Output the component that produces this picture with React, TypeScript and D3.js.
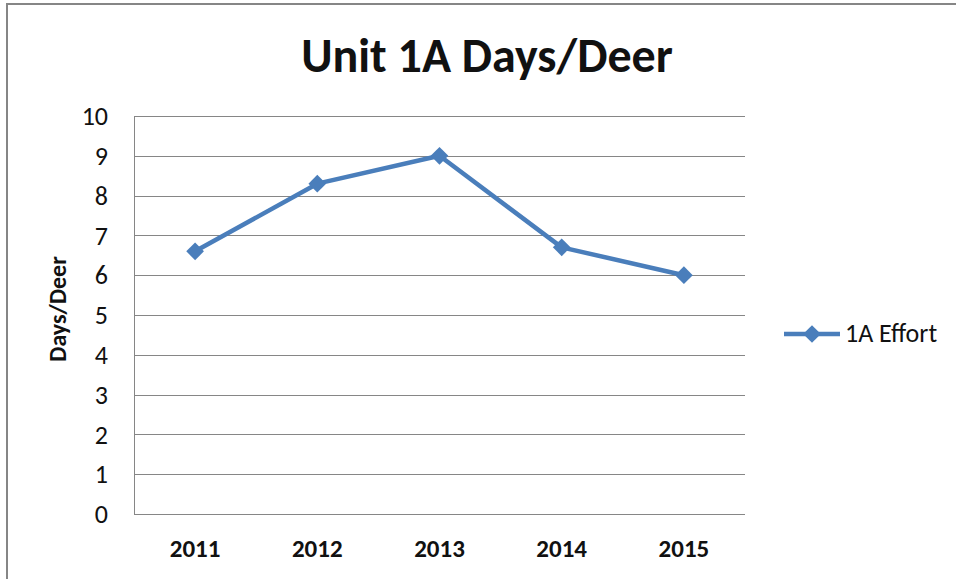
import React, { useEffect, useRef } from 'react';
import * as d3 from 'd3';

const years = ['2011', '2012', '2013', '2014', '2015'];
const effort = [6.6, 8.3, 9.0, 6.7, 6.0];
const yTicks = [0, 1, 2, 3, 4, 5, 6, 7, 8, 9, 10];

const App = () => {
  const ref = useRef<SVGSVGElement>(null);

  useEffect(() => {
    const width = 956;
    const height = 579;
    const plot = { left: 134, top: 116, right: 745, bottom: 514 };
    const svg = d3.select(ref.current);
    svg.selectAll('*').remove();

    svg.append('rect')
      .attr('x', 0).attr('y', 0).attr('width', width).attr('height', height)
      .style('fill', 'white');

    // outer chart border
    svg.append('rect')
      .attr('x', 7).attr('y', 4).attr('width', width + 10).attr('height', height + 10)
      .style('fill', 'none')
      .style('stroke', '#868686')
      .style('stroke-width', 2);

    const x = d3.scaleBand().domain(years).range([plot.left, plot.right]);
    const y = d3.scaleLinear().domain([0, 10]).range([plot.bottom, plot.top]);

    // gridlines
    svg.append('g')
      .selectAll('line')
      .data(yTicks)
      .enter()
      .append('line')
      .attr('x1', plot.left)
      .attr('x2', plot.right)
      .attr('y1', d => Math.round(y(d)) + 0.5)
      .attr('y2', d => Math.round(y(d)) + 0.5)
      .style('stroke', '#868686')
      .style('stroke-width', 1);

    svg.append('line')
      .attr('x1', plot.left + 0.5).attr('x2', plot.left + 0.5)
      .attr('y1', plot.top).attr('y2', plot.bottom + 0.5)
      .style('stroke', '#868686');

    const font = 'Carlito, Calibri, "Open Sans", sans-serif';

    svg.append('g')
      .selectAll('text')
      .data(yTicks)
      .enter()
      .append('text')
      .attr('x', 108)
      .attr('y', d => y(d))
      .attr('dy', '0.35em')
      .attr('text-anchor', 'end')
      .style('font-family', font)
      .style('font-size', '26px')
      .style('fill', '#111')
      .text(d => d);

    svg.append('g')
      .selectAll('text')
      .data(years)
      .enter()
      .append('text')
      .attr('x', d => x(d)! + x.bandwidth() / 2)
      .attr('y', 557)
      .attr('text-anchor', 'middle')
      .style('font-family', font)
      .style('font-size', '25px')
      .style('font-weight', 'bold')
      .style('fill', '#111')
      .text(d => d);

    svg.append('text')
      .attr('transform', 'translate(66,309) rotate(-90)')
      .attr('text-anchor', 'middle')
      .style('font-family', font)
      .style('font-size', '24px')
      .style('font-weight', 'bold')
      .style('fill', '#111')
      .text('Days/Deer');

    svg.append('text')
      .attr('x', 487)
      .attr('y', 72)
      .attr('text-anchor', 'middle')
      .style('font-family', font)
      .style('font-size', '48px')
      .style('font-weight', 'bold')
      .style('fill', '#111')
      .text('Unit 1A Days/Deer');

    const color = '#4A7EBB';
    const line = d3.line<number>()
      .x((d, i) => x(years[i])! + x.bandwidth() / 2)
      .y(d => y(d));

    svg.append('path')
      .datum(effort)
      .attr('d', line)
      .style('fill', 'none')
      .style('stroke', color)
      .style('stroke-width', 4.5)
      .style('stroke-linejoin', 'round');

    const diamond = d3.symbol().type(d3.symbolDiamond2).size(200);

    svg.append('g')
      .selectAll('path')
      .data(effort)
      .enter()
      .append('path')
      .attr('transform', (d, i) => `translate(${x(years[i])! + x.bandwidth() / 2},${y(d)})`)
      .attr('d', diamond)
      .style('fill', color);

    // legend
    const legend = svg.append('g').attr('transform', 'translate(784,334)');
    legend.append('line')
      .attr('x1', 0).attr('x2', 56)
      .attr('y1', 0).attr('y2', 0)
      .style('stroke', color)
      .style('stroke-width', 4.5);
    legend.append('path')
      .attr('transform', 'translate(28,0)')
      .attr('d', diamond)
      .style('fill', color);
    legend.append('text')
      .attr('x', 61)
      .attr('y', 8)
      .style('font-family', font)
      .style('font-size', '26px')
      .style('fill', '#111')
      .text('1A Effort');
  }, []);

  return (
    <svg ref={ref} width={956} height={579} style={{ position: 'absolute', left: 0, top: 0 }} />
  );
};

export default App;
